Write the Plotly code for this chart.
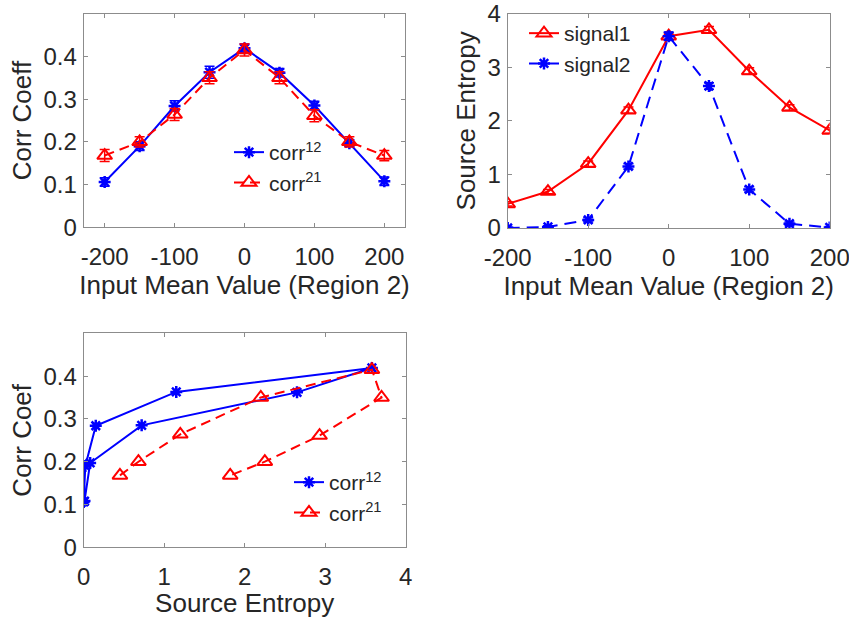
import plotly.graph_objects as go

# ---------------- data ----------------
input_mean = [-200, -150, -100, -50, 0, 50, 100, 150, 200]

corr12 = [0.106, 0.190, 0.284, 0.363, 0.419, 0.362, 0.285, 0.197, 0.108]
corr12_err = [0.010, 0.010, 0.012, 0.014, 0.010, 0.010, 0.010, 0.008, 0.010]
corr21 = [0.168, 0.200, 0.264, 0.350, 0.415, 0.350, 0.261, 0.200, 0.168]
corr21_err = [0.014, 0.012, 0.014, 0.014, 0.014, 0.014, 0.014, 0.012, 0.012]

signal1 = [0.45, 0.68, 1.20, 2.20, 3.58, 3.70, 2.93, 2.25, 1.82]
signal1_err = [0.04, 0.04, 0.05, 0.06, 0.06, 0.06, 0.06, 0.05, 0.05]
signal2 = [0.00, 0.02, 0.15, 1.15, 3.58, 2.65, 0.72, 0.08, 0.01]
signal2_err = [0.02, 0.02, 0.04, 0.05, 0.08, 0.06, 0.05, 0.03, 0.02]

mean_ticks = [-200, -100, 0, 100, 200]
mean_tick_labels = ["-200", "-100", "0", "100", "200"]
entropy_ticks = [0, 1, 2, 3, 4]
corr_ticks = [0, 0.1, 0.2, 0.3, 0.4]
corr_tick_labels = ["0", "0.1", "0.2", "0.3", "0.4"]

BLUE = "rgb(0,0,255)"
RED = "rgb(255,0,0)"
TXT = "#262626"
AX = "#8c8c8c"
FONT = "Liberation Sans, Arial, sans-serif"

STAR = dict(symbol="asterisk-open", size=10, color=BLUE, line=dict(color=BLUE, width=2.5))
TRI = dict(symbol="triangle-up-open", size=13, color=RED, line=dict(color=RED, width=2))

fig = go.Figure()

# ---------------- top-left ----------------
fig.add_trace(go.Scatter(
    x=input_mean, y=corr12, name="corr<sup>12</sup>", mode="lines+markers",
    line=dict(color=BLUE, width=2), marker=STAR,
    error_y=dict(type="data", array=corr12_err, color=BLUE, thickness=1.5, width=5),
    xaxis="x", yaxis="y", legend="legend"))
fig.add_trace(go.Scatter(
    x=input_mean, y=corr21, name="corr<sup>21</sup>", mode="lines+markers",
    line=dict(color=RED, width=2, dash="10px,6px"), marker=TRI,
    error_y=dict(type="data", array=corr21_err, color=RED, thickness=1.5, width=5),
    xaxis="x", yaxis="y", legend="legend"))

# ---------------- top-right ----------------
fig.add_trace(go.Scatter(
    x=input_mean, y=signal1, name="signal1", mode="lines+markers",
    line=dict(color=RED, width=2), marker=TRI,
    error_y=dict(type="data", array=signal1_err, color=RED, thickness=1.5, width=5),
    xaxis="x2", yaxis="y2", legend="legend2"))
fig.add_trace(go.Scatter(
    x=input_mean, y=signal2, name="signal2", mode="lines+markers",
    line=dict(color=BLUE, width=2, dash="12px,7px"), marker=STAR,
    error_y=dict(type="data", array=signal2_err, color=BLUE, thickness=1.5, width=5),
    xaxis="x2", yaxis="y2", legend="legend2"))

# ---------------- bottom ----------------
fig.add_trace(go.Scatter(
    x=signal2, y=corr12, name="corr<sup>12</sup>", mode="lines+markers",
    line=dict(color=BLUE, width=2), marker=STAR,
    xaxis="x3", yaxis="y3", legend="legend3"))
fig.add_trace(go.Scatter(
    x=signal1, y=corr21, name="corr<sup>21</sup>", mode="lines+markers",
    line=dict(color=RED, width=2, dash="10px,6px"), marker=TRI,
    xaxis="x3", yaxis="y3", legend="legend3"))

W, H = 849, 618


def dom_x(a, b):
    return [a / W, b / W]


def dom_y(top, bottom):
    return [1 - bottom / H, 1 - top / H]


axis_common = dict(
    showgrid=False, zeroline=False, showline=True, linecolor=AX, linewidth=1,
    mirror="ticks", ticks="inside", ticklen=4, tickcolor=AX, automargin=False,
    ticklabeloverflow="allow",
    tickfont=dict(family=FONT, size=24, color=TXT),
)
title_font = dict(family=FONT, size=26, color=TXT)

legend_common = dict(
    bgcolor="rgba(0,0,0,0)", borderwidth=0,
    font=dict(family=FONT, size=21, color=TXT),
    xanchor="left", yanchor="top", tracegroupgap=0, itemwidth=30,
)

fig.update_layout(
    width=W, height=H, margin=dict(l=0, r=0, t=0, b=0, autoexpand=False),
    paper_bgcolor="white", plot_bgcolor="white",
    font=dict(family=FONT, color=TXT),
    xaxis=dict(domain=dom_x(83.7, 405.3), anchor="y", range=[-230, 230],
               tickvals=mean_ticks, ticktext=mean_tick_labels, ticklabelstandoff=8,
               title=dict(text="Input Mean Value (Region 2)", font=title_font, standoff=2),
               **axis_common),
    yaxis=dict(domain=dom_y(13.7, 227.3), anchor="x", range=[0, 0.5],
               tickvals=corr_ticks, ticktext=corr_tick_labels, ticklabelstandoff=1,
               title=dict(text="Corr Coeff", font=title_font, standoff=4),
               **axis_common),
    xaxis2=dict(domain=dom_x(507.7, 829.7), anchor="y2", range=[-200, 200],
                tickvals=mean_ticks, ticktext=mean_tick_labels, ticklabelstandoff=8,
                title=dict(text="Input Mean Value (Region 2)", font=title_font, standoff=2),
                **axis_common),
    yaxis2=dict(domain=dom_y(13.7, 228), anchor="x2", range=[0, 4],
                tickvals=entropy_ticks, ticklabelstandoff=1,
                title=dict(text="Source Entropy", font=title_font, standoff=4),
                **axis_common),
    xaxis3=dict(domain=dom_x(83.7, 405.7), anchor="y3", range=[0, 4],
                tickvals=entropy_ticks, ticklabelstandoff=8,
                title=dict(text="Source Entropy", font=title_font, standoff=2),
                **axis_common),
    yaxis3=dict(domain=dom_y(333.3, 547.3), anchor="x3", range=[0, 0.5],
                tickvals=corr_ticks, ticktext=corr_tick_labels, ticklabelstandoff=1,
                title=dict(text="Corr Coef", font=title_font, standoff=4),
                **axis_common),
    legend=dict(x=229 / W, y=1 - 132 / H, **legend_common),
    legend2=dict(x=524 / W, y=1 - 13 / H, **legend_common),
    legend3=dict(x=289 / W, y=1 - 462 / H, **legend_common),
)

fig.write_html("out.html")
